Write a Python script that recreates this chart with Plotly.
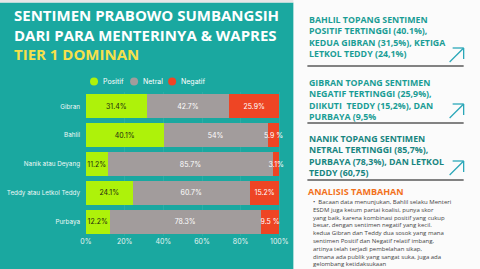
import plotly.graph_objects as go

categories = ["Gibran", "Bahlil", "Nanik atau Deyang", "Teddy atau Letkol Teddy", "Purbaya"]
positif = [31.4, 40.1, 11.2, 24.1, 12.2]
netral = [42.7, 54.0, 85.7, 60.7, 78.3]
negatif = [25.9, 5.9, 3.1, 15.2, 9.5]
positif_txt = ["31.4%", "40.1%", "11.2%", "24.1%", "12.2%"]
netral_txt = ["42.7%", "54%", "85.7%", "60.7%", "78.3%"]
negatif_txt = ["25.9%", "5.9 %", "3.1%", "15.2%", "9.5 %"]
series_names = ["Positif", "Netral", "Negatif"]
tick_vals = [0, 20, 40, 60, 80, 100]
tick_text = ["0%", "20%", "40%", "60%", "80%", "100%"]

title_lines = ["SENTIMEN PRABOWO SUMBANGSIH", "DARI PARA MENTERINYA & WAPRES"]
subtitle = "TIER 1 DOMINAN"
blocks = [
    ["BAHLIL TOPANG SENTIMEN", "POSITIF TERTINGGI (40.1%),", "KEDUA GIBRAN (31,5%), KETIGA", "LETKOL TEDDY (24,1%)"],
    ["GIBRAN TOPANG SENTIMEN", "NEGATIF TERTINGGI (25,9%),", "DIIKUTI  TEDDY (15,2%), DAN", "PURBAYA (9,5%"],
    ["NANIK TOPANG SENTIMEN", "NETRAL TERTINGGI (85,7%),", "PURBAYA (78,3%), DAN LETKOL", "TEDDY (60,75)"],
]
analysis_title = "ANALISIS TAMBAHAN"
analysis_lines = [
    "•  Bacaan data menunjukan, Bahlil selaku Menteri",
    "ESDM juga ketum partai koalisi, punya skor",
    "yang baik, karena kombinasi positif yang cukup",
    "besar, dengan sentimen negatif yang kecil.",
    "kedua Gibran dan Teddy dua sosok yang mana",
    "sentimen Positif dan Negatif relatif imbang,",
    "artinya telah terjadi pembelahan sikap,",
    "dimana ada publik yang sangat suka, juga ada",
    "gelombang ketidaksukaan",
]

W, H = 480, 269
X_MAX = 105  # a little room right of 100% so overflowing labels are not clipped
L, T, B = 86, 92, 33
PPU = 193 / 100  # pixels per percent (0% at x=86, 100% at x=279)
PW = PPU * X_MAX
R = W - L - PW
PH = H - T - B

def px(x):
    return (x - L) / PW

def py(y):
    return 1 - (y - T) / PH

TEAL = "#1aa8a0"
COLORS = ["#aef20a", "#a29c9c", "#ee4524"]
TEXT_COLORS = ["#1e2a10", "#ffffff", "#ffffff"]
FONT = "Open Sans"
CFONT = "Inter"

fig = go.Figure()
for vals, txt, col, tcol, name in zip([positif, netral, negatif],
                                      [positif_txt, netral_txt, negatif_txt],
                                      COLORS, TEXT_COLORS, series_names):
    fig.add_trace(go.Bar(
        y=categories, x=vals, orientation="h", name=name,
        marker=dict(color=col, line=dict(width=0)),
        text=txt, textposition="inside", insidetextanchor="middle", textangle=0,
        textfont=dict(color=tcol, size=7, family=CFONT), constraintext="none",
        showlegend=False, hoverinfo="skip",
    ))

shapes = [
    dict(type="rect", xref="paper", yref="paper", x0=px(0), x1=px(293), y0=py(2.5), y1=py(269),
         fillcolor=TEAL, line=dict(width=0), layer="below"),
    dict(type="rect", xref="paper", yref="paper", x0=px(0), x1=px(293), y0=py(0), y1=py(2.5),
         fillcolor="#e6e6e6", line=dict(width=0), layer="below"),
]
for sy in [66, 123, 180]:
    shapes.append(dict(type="line", xref="paper", yref="paper", x0=px(307), x1=px(463),
                       y0=py(sy), y1=py(sy), line=dict(color="#5a5a5a", width=1.5)))
for ay in [62, 118, 175]:
    ac = "#2aa7b8"
    shapes.append(dict(type="line", xref="paper", yref="paper", x0=px(449), x1=px(463),
                       y0=py(ay), y1=py(ay - 14), line=dict(color=ac, width=1.3)))
    shapes.append(dict(type="line", xref="paper", yref="paper", x0=px(452), x1=px(463),
                       y0=py(ay - 14), y1=py(ay - 14), line=dict(color=ac, width=1.3)))
    shapes.append(dict(type="line", xref="paper", yref="paper", x0=px(463), x1=px(463),
                       y0=py(ay - 14), y1=py(ay - 3), line=dict(color=ac, width=1.3)))

ann = []
# legend (circle swatch + label)
for cx, col, name in zip([94, 134, 172], COLORS, series_names):
    shapes.append(dict(type="circle", xref="paper", yref="paper", x0=px(cx - 4), x1=px(cx + 4),
                       y0=py(77.5), y1=py(85.5), fillcolor=col, line=dict(width=0)))
    ann.append(dict(text=name, x=px(cx + 7), y=py(81.5), xref="paper", yref="paper",
                    xanchor="left", yanchor="middle", showarrow=False,
                    font=dict(family=CFONT, size=7, color="#ffffff")))

title_html = "<b>" + "<br>".join(title_lines) + f"<br><span style='color:#f6e04a'>{subtitle}</span></b>"
ann.append(dict(text=title_html, x=px(12), y=py(34.5), xref="paper", yref="paper",
                xanchor="left", yanchor="middle", align="left", showarrow=False,
                font=dict(family=FONT, size=15, color="#ffffff")))

block_y = [11.5, 74.5, 131]
for b, lines in enumerate(blocks):
    ann.append(dict(text="<b>" + "<br>".join(lines) + "</b>", x=px(307), y=py(block_y[b]),
                    xref="paper", yref="paper", xanchor="left", yanchor="top", align="left",
                    showarrow=False,
                    font=dict(family=FONT, size=8.8, color="#1a9d95" if b < 2 else "#17857f")))
ann.append(dict(text=f"<b>{analysis_title}</b>", x=px(306), y=py(191), xref="paper", yref="paper",
                xanchor="left", yanchor="middle", showarrow=False,
                font=dict(family=FONT, size=9, color="#f2711c")))
ann.append(dict(text="<br>".join(analysis_lines), x=px(311), y=py(196), xref="paper", yref="paper",
                xanchor="left", yanchor="top", align="left", showarrow=False,
                font=dict(family=FONT, size=6, color="#444444")))

fig.update_layout(
    width=W, height=H, margin=dict(l=L, r=R, t=T, b=B),
    paper_bgcolor="#fbfbfb", plot_bgcolor="rgba(0,0,0,0)",
    barmode="stack", bargap=0.17, showlegend=False,
    font=dict(family=CFONT),
    shapes=shapes, annotations=ann,
    xaxis=dict(range=[0, X_MAX], tickvals=tick_vals, ticktext=tick_text,
               tickfont=dict(size=7, color="#e6f4f2"), showgrid=True,
               gridcolor="rgba(255,255,255,0.08)", gridwidth=1, zeroline=False,
               showline=False, fixedrange=True, automargin=False),
    yaxis=dict(autorange="reversed", tickfont=dict(size=6.3, color="#eef8f6"),
               showgrid=False, zeroline=False, ticks="", ticklabelstandoff=5,
               automargin=False),
)

fig.write_html("out.html")
